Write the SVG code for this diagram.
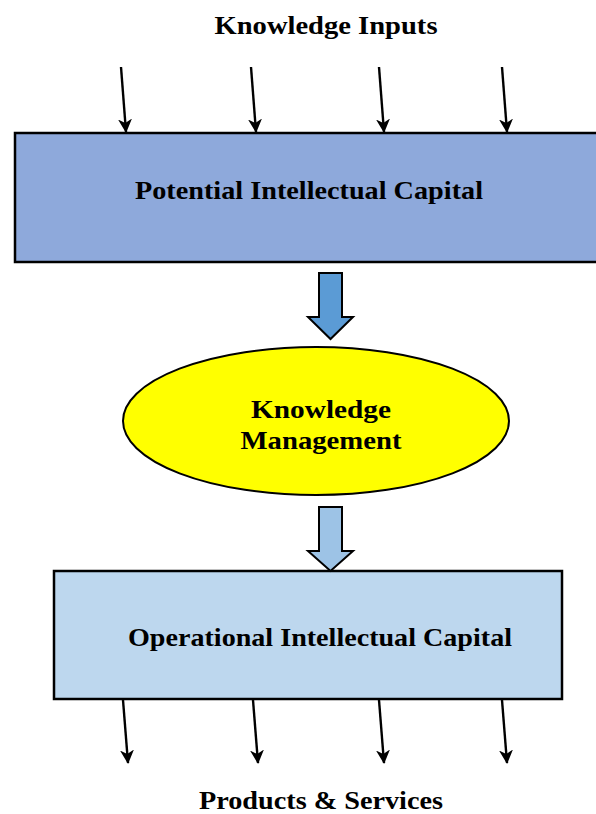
<svg xmlns="http://www.w3.org/2000/svg" width="596" height="814" viewBox="0 0 596 814">
<style>
text{font-family:"Liberation Serif","DejaVu Serif",serif;font-weight:bold;font-size:26px;fill:#000;text-anchor:middle}
.ln{stroke:#000;stroke-width:2.4;fill:none;marker-end:url(#ah)}
.blk{stroke:#000;stroke-width:2;stroke-linejoin:miter}
</style>
<defs>
<marker id="ah" markerWidth="14" markerHeight="14" refX="13" refY="7" orient="auto" markerUnits="userSpaceOnUse" viewBox="0 0 14 14">
<path d="M0,0 L14,7 L0,14 L4,7 Z" fill="#000"/>
</marker>
</defs>
<text x="326" y="34" textLength="223" lengthAdjust="spacingAndGlyphs">Knowledge Inputs</text>
<g id="n-potential">
<rect x="15" y="133" width="590" height="129" fill="#8EA9DB" stroke="#000" stroke-width="2.5"/>
<text x="309" y="199" textLength="348" lengthAdjust="spacingAndGlyphs">Potential Intellectual Capital</text>
</g>
<g id="n-km">
<ellipse cx="316" cy="421" rx="193" ry="74" fill="#FFFF00" stroke="#000" stroke-width="2"/>
<text x="321" y="418" textLength="140" lengthAdjust="spacingAndGlyphs">Knowledge</text>
<text x="321" y="449" textLength="161" lengthAdjust="spacingAndGlyphs">Management</text>
</g>
<g id="n-operational">
<rect x="54" y="571" width="508" height="128" fill="#BDD7EE" stroke="#000" stroke-width="2.5"/>
<text x="320" y="646" textLength="384" lengthAdjust="spacingAndGlyphs">Operational Intellectual Capital</text>
</g>
<text x="321" y="809" textLength="244" lengthAdjust="spacingAndGlyphs">Products &amp; Services</text>
<g id="connectors">
<line class="ln" x1="121" y1="67" x2="126" y2="132"/>
<line class="ln" x1="251" y1="67" x2="256" y2="132"/>
<line class="ln" x1="379" y1="67" x2="384" y2="132"/>
<line class="ln" x1="502" y1="67" x2="507" y2="132"/>
<line class="ln" x1="123" y1="700" x2="128" y2="763"/>
<line class="ln" x1="253" y1="700" x2="258" y2="763"/>
<line class="ln" x1="379" y1="700" x2="384" y2="763"/>
<line class="ln" x1="502" y1="700" x2="507" y2="763"/>
<path class="blk" fill="#5B9BD5" d="M319,273 H342 V317 H353 L330.5,339 L308,317 H319 Z"/>
<path class="blk" fill="#9DC3E6" d="M319,507 H342 V551 H353 L330.5,571 L308,551 H319 Z"/>
</g>
</svg>
